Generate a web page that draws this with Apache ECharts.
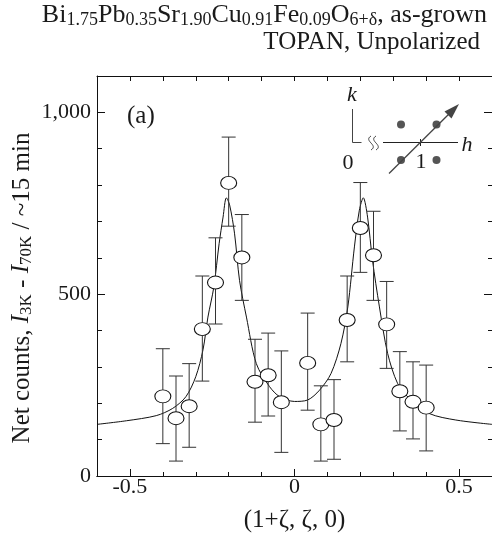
<!DOCTYPE html>
<html>
<head>
<meta charset="utf-8">
<script src="https://cdn.jsdelivr.net/npm/echarts@6/dist/echarts.min.js"></script>
<style>html,body{margin:0;padding:0;background:#fff;}#chart{width:492px;height:533px;}</style>
</head>
<body>
<div id="chart"></div>
<script>
const zeta     = [-0.40,-0.36,-0.32,-0.28,-0.24,-0.20,-0.16,-0.12,-0.08,-0.04,0.04,0.08,0.12,0.16,0.20,0.24,0.28,0.32,0.36,0.40];
const counts   = [219,159,192,404,532,806,601,259,277,203,311,142,154,429,682,607,417,233,204,188];
const errLow   = [89,41,79,261,418,687,483,148,165,65,181,41,46,314,560,483,296,124,102,69];
const errHigh  = [350,275,309,550,655,932,719,376,393,344,448,248,265,550,807,728,535,342,314,305];

// Fitted curve, points
const fitX = [-0.60,-0.51,-0.42,-0.37,-0.33,-0.30,-0.278,-0.263,-0.245,-0.229,-0.217,-0.207,-0.197,-0.182,-0.167,-0.146,-0.116,-0.076,-0.045,0.0,0.04,0.076,0.111,0.141,0.162,0.182,0.197,0.209,0.222,0.237,0.258,0.283,0.313,0.348,0.409,0.49,0.60];
const fitY = [142,152,166,186,218,273,347,437,520,639,712,765,745,666,538,437,309,246,218,205,209,236,282,364,465,630,731,765,712,593,465,337,255,214,172,154,142];

// Tick values / labels
const xLabelVals = [-0.5, 0, 0.5];
const xMinorVals = [-0.6,-0.5,-0.4,-0.3,-0.2,-0.1,0,0.1,0.2,0.3,0.4,0.5,0.6];
const yLabelText = {0: '0', 500: '500', 1000: '1,000'};

const serif = '"Liberation Serif", "Times New Roman", serif';
const chart = echarts.init(document.getElementById('chart'));

const txt = '#1a1a1a';
const titleRich = {
  n: {fontFamily: serif, fontSize: 26, fontWeight: 'normal', color: txt, lineHeight: 27, verticalAlign: 'top'},
  s: {fontFamily: serif, fontSize: 18, fontWeight: 'normal', color: txt, lineHeight: 18, verticalAlign: 'bottom', padding: [12, 0, 0, 0]}
};
const nameRich = {
  n: {fontFamily: serif, fontSize: 25, fontWeight: 'normal', color: txt, lineHeight: 26, verticalAlign: 'top'},
  s: {fontFamily: serif, fontSize: 17, fontWeight: 'normal', color: txt, lineHeight: 17, verticalAlign: 'bottom', padding: [11, 0, 0, 0]},
  i: {fontFamily: serif, fontSize: 25, fontWeight: 'normal', fontStyle: 'italic', color: txt, lineHeight: 26, verticalAlign: 'top'}
};

const errData = zeta.map((x, k) => [x, errLow[k], errHigh[k]]);

const baseX = {
  type: 'value', min: -0.6, max: 0.6, gridIndex: 0,
  axisLine: {onZero: false, lineStyle: {color: '#111', width: 1}},
  splitLine: {show: false}
};
const baseY = {
  type: 'value', min: 0, max: 1100, interval: 500, gridIndex: 0,
  axisLine: {show: true, onZero: false, lineStyle: {color: '#111', width: 1}},
  splitLine: {show: false}
};

const ink = '#444';

chart.setOption({
  animation: false,
  backgroundColor: '#fff',
  title: [
    {text: '{n|Bi}{s|1.75}{n|Pb}{s|0.35}{n|Sr}{s|1.90}{n|Cu}{s|0.91}{n|Fe}{s|0.09}{n|O}{s|6+δ}{n|, as-grown}',
     right: 5, top: 2, padding: 0, textStyle: {fontWeight: 'normal', rich: titleRich}},
    {text: 'TOPAN, Unpolarized', right: 12, top: 29, padding: 0,
     textStyle: {fontFamily: serif, fontSize: 25, fontWeight: 'normal', color: txt, lineHeight: 26}}
  ],
  grid: {left: 97, right: 0, top: 76, bottom: 57, containLabel: false, outerBoundsMode: 'none'},
  xAxis: [
    Object.assign({}, baseX, {position: 'bottom',
      axisTick: {show: true, inside: true, length: 7, customValues: xLabelVals, lineStyle: {color: '#111'}},
      axisLabel: {show: true, customValues: xLabelVals, margin: 0, fontFamily: serif, fontSize: 22, color: txt,
        formatter: v => (v === 0 ? '0' : String(v))},
      name: '(1+ζ, ζ, 0)', nameLocation: 'middle', nameGap: 32,
      nameTextStyle: {fontFamily: serif, fontSize: 25, color: txt}}),
    Object.assign({}, baseX, {position: 'bottom',
      axisTick: {show: true, inside: true, length: 4, customValues: xMinorVals, lineStyle: {color: '#111'}},
      axisLabel: {show: false}}),
    Object.assign({}, baseX, {position: 'top',
      axisTick: {show: true, inside: true, length: 5, customValues: xMinorVals, lineStyle: {color: '#111'}},
      axisLabel: {show: false}})
  ],
  yAxis: [
    Object.assign({}, baseY, {position: 'left',
      axisTick: {show: true, inside: true, length: 8, lineStyle: {color: '#111'}},
      minorTick: {show: true, splitNumber: 5, length: 5, lineStyle: {color: '#111'}},
      axisLabel: {show: true, margin: 6, fontFamily: serif, fontSize: 22, color: txt,
        formatter: v => (yLabelText[v] !== undefined ? yLabelText[v] : '')}}),
    Object.assign({}, baseY, {position: 'right',
      axisTick: {show: true, inside: true, length: 8, lineStyle: {color: '#111'}},
      minorTick: {show: true, splitNumber: 5, length: 4, lineStyle: {color: '#111'}},
      axisLabel: {show: false}})
  ],
  series: [
    {
      type: 'line', xAxisIndex: 0, yAxisIndex: 0,
      data: fitX.map((x, k) => [x, fitY[k]]),
      showSymbol: false, symbol: 'none', smooth: 0.3,
      lineStyle: {color: '#111', width: 1}, z: 2
    },
    {
      type: 'custom', xAxisIndex: 0, yAxisIndex: 0, z: 3,
      data: errData,
      renderItem: function (params, api) {
        const x = api.value(0);
        const lo = api.coord([x, api.value(1)]);
        const hi = api.coord([x, api.value(2)]);
        const w = 7;
        const st = {stroke: '#333', lineWidth: 1};
        return {type: 'group', children: [
          {type: 'line', shape: {x1: lo[0], y1: lo[1], x2: hi[0], y2: hi[1]}, style: st},
          {type: 'line', shape: {x1: lo[0] - w, y1: lo[1], x2: lo[0] + w, y2: lo[1]}, style: st},
          {type: 'line', shape: {x1: hi[0] - w, y1: hi[1], x2: hi[0] + w, y2: hi[1]}, style: st}
        ]};
      }
    },
    {
      type: 'scatter', xAxisIndex: 0, yAxisIndex: 0, z: 4,
      data: zeta.map((x, k) => [x, counts[k]]),
      symbol: 'circle', symbolSize: [16, 13],
      itemStyle: {color: '#fff', borderColor: '#111', borderWidth: 1, opacity: 1}
    }
  ],
  graphic: [
    {type: 'text', x: 22, y: 288, rotation: Math.PI / 2,
     style: {text: 'Net counts, {i|I}{s|3K} - {i|I}{s|70K} / ~15 min', rich: nameRich,
       font: '25px ' + serif, fill: txt, align: 'center', verticalAlign: 'middle'}},
    {type: 'text', x: 127, y: 116,
     style: {text: '(a)', font: '25px ' + serif, fill: txt, verticalAlign: 'middle'}},
    // inset reciprocal-space sketch
    {type: 'text', x: 352, y: 95, style: {text: 'k', font: 'italic 22px ' + serif, fill: txt, align: 'center', verticalAlign: 'middle'}},
    {type: 'polyline', shape: {points: [[352.5, 109], [352.5, 142.5], [361.5, 142.5]]}, style: {stroke: ink, lineWidth: 1, fill: null}},
    {type: 'bezierCurve', shape: {x1: 371, y1: 136, x2: 371, y2: 150, cpx1: 363, cpy1: 141, cpx2: 379, cpy2: 145}, style: {stroke: ink, lineWidth: 1, fill: null}},
    {type: 'bezierCurve', shape: {x1: 376, y1: 136, x2: 376, y2: 150, cpx1: 368, cpy1: 141, cpx2: 384, cpy2: 145}, style: {stroke: ink, lineWidth: 1, fill: null}},
    {type: 'line', shape: {x1: 383, y1: 142.5, x2: 458, y2: 142.5}, style: {stroke: '#222', lineWidth: 1}},
    {type: 'line', shape: {x1: 420.5, y1: 139, x2: 420.5, y2: 146}, style: {stroke: '#222', lineWidth: 1}},
    {type: 'text', x: 467, y: 145, style: {text: 'h', font: 'italic 22px ' + serif, fill: txt, align: 'center', verticalAlign: 'middle'}},
    {type: 'text', x: 348, y: 163, style: {text: '0', font: '22px ' + serif, fill: txt, align: 'center', verticalAlign: 'middle'}},
    {type: 'text', x: 421, y: 162, style: {text: '1', font: '22px ' + serif, fill: txt, align: 'center', verticalAlign: 'middle'}},
    {type: 'circle', shape: {cx: 401, cy: 124.5, r: 4}, style: {fill: '#555'}},
    {type: 'circle', shape: {cx: 436.5, cy: 124.5, r: 4}, style: {fill: '#555'}},
    {type: 'circle', shape: {cx: 401, cy: 160, r: 4}, style: {fill: '#555'}},
    {type: 'circle', shape: {cx: 436.5, cy: 160, r: 4}, style: {fill: '#555'}},
    {type: 'line', shape: {x1: 389, y1: 173.5, x2: 455, y2: 108}, style: {stroke: ink, lineWidth: 1.3}},
    {type: 'polygon', shape: {points: [[459, 104], [444.5, 111.5], [451.5, 118.5]]}, style: {fill: ink}}
  ]
});
</script>
</body>
</html>
